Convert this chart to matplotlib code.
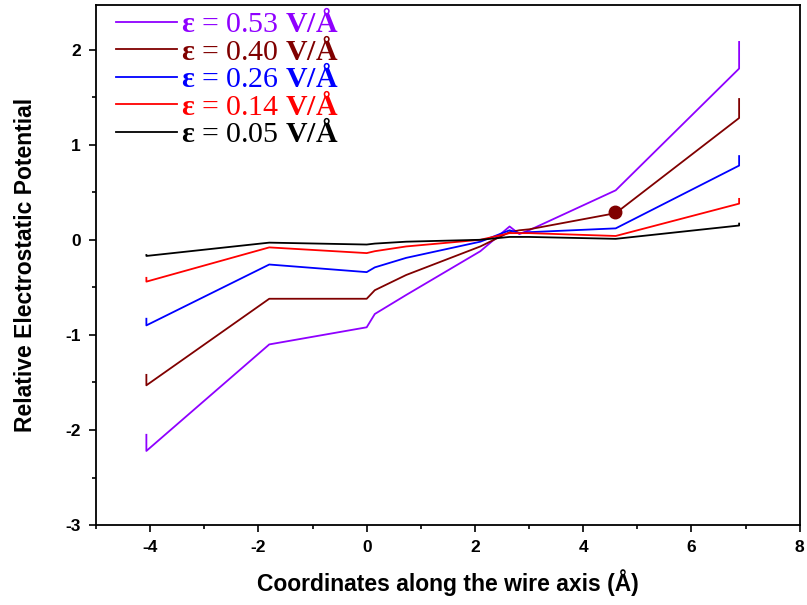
import matplotlib
matplotlib.use("Agg")
import matplotlib.pyplot as plt
from matplotlib.ticker import MultipleLocator

plt.rcParams['mathtext.fontset'] = 'custom'
plt.rcParams['mathtext.rm'] = 'Liberation Serif'
plt.rcParams['mathtext.bf'] = 'Liberation Serif:bold'
plt.rcParams['axes.unicode_minus'] = False

# positions along the wire (Å); ends are repeated to close the curves
coords = [-4.07, -4.07, -1.8, 0.0, 0.15, 0.73, 2.1, 2.64, 2.82, 3.0, 4.6, 6.88, 6.88]

pot_053 = [-2.05, -2.22, -1.10, -0.92, -0.78, -0.58, -0.12, 0.14, 0.06, 0.10, 0.52, 1.80, 2.08]
pot_040 = [-1.42, -1.53, -0.62, -0.62, -0.53, -0.37, -0.07, 0.08, 0.10, 0.11, 0.28, 1.28, 1.48]
pot_026 = [-0.83, -0.90, -0.26, -0.34, -0.29, -0.19, -0.02, 0.10, 0.07, 0.08, 0.12, 0.78, 0.88]
pot_014 = [-0.40, -0.44, -0.08, -0.14, -0.12, -0.07, 0.00, 0.07, 0.07, 0.07, 0.04, 0.38, 0.43]
pot_005 = [-0.16, -0.17, -0.03, -0.05, -0.04, -0.02, 0.00, 0.03, 0.03, 0.03, 0.01, 0.15, 0.17]

fields = ['0.53', '0.40', '0.26', '0.14', '0.05']
colors = ['#8F00FF', '#800000', '#0000FF', '#FF0000', '#000000']
series = [pot_053, pot_040, pot_026, pot_014, pot_005]

# highlighted point on the 0.40 V/Å curve
dot_x = [4.58]
dot_y = [0.29]

fig = plt.figure(figsize=(8.07, 6.05), dpi=100)
ax = fig.add_axes([0.119, 0.132, 0.872, 0.860])

for f, c, ys in zip(fields, colors, series):
    ax.plot(coords, ys, color=c, lw=1.3,
            label=r'$\mathbf{ε}$ = ' + f + r' $\mathbf{V/Å}$')

ax.plot(dot_x, dot_y, 'o', color='#800000', ms=9, zorder=5)

ax.set_xlim(-5, 8)
ax.set_ylim(-3, 2.47)
ax.xaxis.set_major_locator(MultipleLocator(2))
ax.xaxis.set_minor_locator(MultipleLocator(1))
ax.yaxis.set_major_locator(MultipleLocator(1))
ax.yaxis.set_minor_locator(MultipleLocator(0.5))
ax.tick_params(which='major', direction='out', length=5, width=1.2,
               labelsize=12.5, pad=6, top=False, right=False)
ax.tick_params(which='minor', direction='out', length=3, width=1.2,
               top=False, right=False)
for lab in ax.get_xticklabels() + ax.get_yticklabels():
    lab.set_fontweight('bold')
    lab.set_family('Liberation Sans')
for s in ax.spines.values():
    s.set_linewidth(1.3)

ax.set_xlabel('Coordinates along the wire axis (Å)', fontsize=16.5,
              fontweight='bold', family='Liberation Sans', labelpad=10)
ax.set_ylabel('Relative Electrostatic Potential', fontsize=16.5,
              fontweight='bold', family='Liberation Sans', labelpad=20)

leg = ax.legend(loc='upper left', frameon=False, handlelength=2.05,
                handletextpad=0.12, labelspacing=-0.05,
                borderaxespad=0.1, bbox_to_anchor=(0.007, 1.02),
                prop={'family': 'Liberation Serif', 'size': 21.5})
for t, c in zip(leg.get_texts(), colors):
    t.set_color(c)

fig.savefig('out.png', dpi=100)
